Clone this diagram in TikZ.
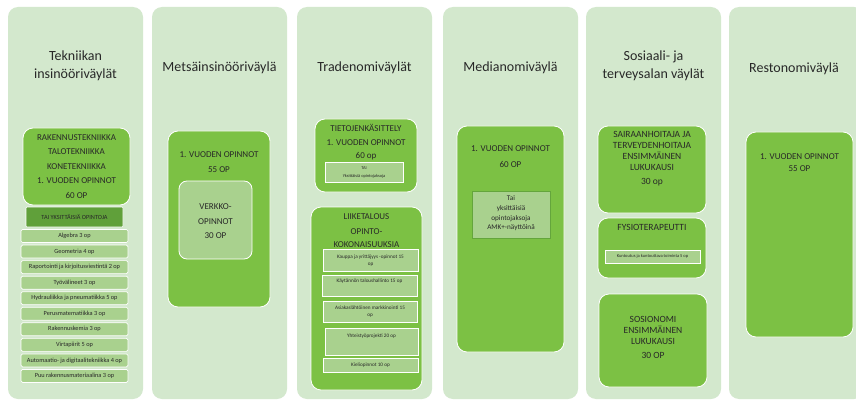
\documentclass[tikz,border=0pt]{standalone}
\usepackage{fontspec}
\setmainfont{Carlito}
\definecolor{colbg}{RGB}{211,232,205}
\definecolor{boxg}{RGB}{124,193,68}
\definecolor{lightg}{RGB}{169,209,142}
\definecolor{darkg}{RGB}{96,160,58}
\definecolor{edgeg}{RGB}{100,165,60}
\definecolor{txt}{RGB}{40,40,40}
\begin{document}
\begin{tikzpicture}[x=1pt,y=-1pt,
  every node/.style={inner sep=0pt, outer sep=0pt, text=txt},
  col/.style={fill=colbg, rounded corners=10pt},
  gbox/.style={draw=white, line width=0.8pt, fill=boxg, rounded corners=10pt},
  lbox/.style={draw=white, line width=0.7pt, fill=lightg, rounded corners=1.5pt},
  ttl/.style={font=\fontsize{14}{17.5}\selectfont, align=center},
  capt/.style={font=\fontsize{9}{14.5}\selectfont, align=center},
  small/.style={font=\fontsize{6.3}{7.5}\selectfont, align=center},
  tiny/.style={font=\fontsize{5.2}{7.2}\selectfont, align=center},
  micro/.style={font=\fontsize{4.2}{5.2}\selectfont, align=center}
]
\useasboundingbox (0,0) rectangle (856,401);
\fill[white] (0,0) rectangle (856,401);
% columns
\node[col, minimum width=135, minimum height=392] (c1) at (75.5,203) {};
\node[col, minimum width=135, minimum height=392] (c2) at (219.5,203) {};
\node[col, minimum width=135, minimum height=392] (c3) at (364.5,203) {};
\node[col, minimum width=135, minimum height=392] (c4) at (510.5,203) {};
\node[col, minimum width=135, minimum height=392] (c5) at (653.5,203) {};
\node[col, minimum width=135, minimum height=392] (c6) at (796.5,203) {};
% titles
\node[ttl] (t1) at (75.5,66) {Tekniikan\\insinööriväylät};
\node[ttl] (t2) at (219.5,68) {Metsäinsinööriväylä};
\node[ttl] (t3) at (364.5,68) {Tradenomiväylät};
\node[ttl] (t4) at (510.5,68) {Medianomiväylä};
\node[ttl] (t5) at (653.5,66) {Sosiaali- ja\\terveysalan väylät};
\node[ttl] (t6) at (794,69) {Restonomiväylä};
% column 1
\node[gbox, minimum width=107, minimum height=77] (b1) at (76.5,166.5) {};
\node[capt] (b1t) at (76.5,166.5) {RAKENNUSTEKNIIKKA\\TALOTEKNIIKKA\\KONETEKNIIKKA\\1. VUODEN OPINNOT\\60 OP};
\node[draw=white, line width=0.7pt, fill=darkg, rounded corners=1pt, minimum width=97, minimum height=20] (tai) at (74.5,217) {};
\node[small] (tait) at (74.5,217) {TAI YKSITTÄISIÄ OPINTOJA};
\foreach \i/\s in {0/Algebra 3 op, 1/Geometria 4 op, 2/Raportointi ja kirjoitusviestintä 2 op, 3/Työvälineet 3 op, 4/Hydrauliikka ja pneumatiikka 5 op, 5/Perusmatematiikka 3 op, 6/Rakennuskemia 3 op, 7/Virtapiirit 5 op, 8/Automaatio- ja digitaalitekniikka 4 op, 9/Puu rakennusmateriaalina 3 op}{
  \node[lbox, minimum width=107, minimum height=13] (l\i) at (74.5,236+15.55*\i) {};
  \node[small] (l\i t) at (l\i) {\s};
}
% column 2
\node[gbox, minimum width=102, minimum height=176] (b2) at (219,219) {};
\node[capt, font=\fontsize{9}{15}\selectfont] (b2t) at (219,162.5) {1. VUODEN OPINNOT\\55 OP};
\node[draw=white, line width=0.8pt, fill=lightg, rounded corners=8pt, minimum width=73, minimum height=78] (v2) at (215.5,220) {};
\node[capt] (v2t) at (215.5,221.5) {VERKKO-\\OPINNOT\\30 OP};
% column 3
\node[gbox, minimum width=102, minimum height=73] (b3) at (366,155.5) {};
\node[capt] (b3a) at (366,128) {TIETOJENKÄSITTELY};
\node[capt, font=\fontsize{9}{13}\selectfont] (b3b) at (366,149.5) {1. VUODEN OPINNOT\\60 op};
\node[draw=white, line width=0.7pt, fill=lightg, minimum width=78, minimum height=20] (i3) at (364,172) {};
\node[micro, font=\fontsize{4.4}{8}\selectfont] (i3t) at (364,172) {TAI\\Yksittäisiä opintojaksoja};
\node[gbox, minimum width=111, minimum height=183] (b4) at (366.5,298.5) {};
\node[capt] (b4a) at (366.5,217) {LIIKETALOUS};
\node[capt, font=\fontsize{9}{13}\selectfont] (b4b) at (366.5,238.5) {OPINTO-\\KOKONAISUUKSIA};
\node[lbox, rounded corners=0pt, minimum width=95, minimum height=22] (k1) at (370.5,260) {};
\node[tiny] (k1t) at (370.5,260.5) {Kauppa ja yrittäjyys -opinnot 15\\op};
\node[lbox, rounded corners=0pt, minimum width=95, minimum height=21] (k2) at (369.5,285.5) {};
\node[tiny] (k2t) at (369.5,281.5) {Käytännön taloushallinto 15 op};
\node[lbox, rounded corners=0pt, minimum width=94, minimum height=21] (k3) at (370,311.5) {};
\node[tiny] (k3t) at (370,312) {Asiakaslähtöinen markkinointi 15\\op};
\node[lbox, rounded corners=0pt, minimum width=93, minimum height=27] (k4) at (371.5,341.5) {};
\node[tiny] (k4t) at (371.5,336) {Yhteistyöprojekti 20 op};
\node[lbox, rounded corners=0pt, minimum width=95, minimum height=14] (k5) at (370.5,365) {};
\node[tiny] (k5t) at (370.5,365) {Kieliopinnot 10 op};
% column 4
\node[gbox, minimum width=107, minimum height=226] (b5) at (510.5,239) {};
\node[capt, font=\fontsize{9}{16}\selectfont] (b5t) at (510.5,157) {1. VUODEN OPINNOT\\60 OP};
\node[draw=edgeg, line width=0.8pt, fill=lightg, minimum width=78, minimum height=47] (i5) at (511,214.5) {};
\node[capt, font=\fontsize{7.2}{9.7}\selectfont] (i5t) at (511,213.5) {Tai\\yksittäisiä\\opintojaksoja\\AMK+-näyttöinä};
% column 5
\node[gbox, minimum width=108, minimum height=87] (b6) at (652,169.5) {};
\node[capt, font=\fontsize{9.5}{11}\selectfont] (b6a) at (652,150.5) {SAIRAANHOITAJA JA\\TERVEYDENHOITAJA\\ENSIMMÄINEN\\LUKUKAUSI};
\node[capt, font=\fontsize{9.5}{11}\selectfont] (b6b) at (652,182) {30 op};
\node[gbox, minimum width=108, minimum height=60] (b7) at (652,248) {};
\node[capt, font=\fontsize{9.5}{11}\selectfont] (b7t) at (652,227) {FYSIOTERAPEUTTI};
\node[lbox, rounded corners=0pt, minimum width=95, minimum height=13] (i7) at (652.5,256.5) {};
\node[micro, font=\fontsize{4.5}{5.5}\selectfont] (i7t) at (652.5,256.5) {Kuntoutus ja kuntouttava toiminta 5 op};
\node[gbox, minimum width=108, minimum height=93] (b8) at (653,340.5) {};
\node[capt, font=\fontsize{9.5}{11}\selectfont] (b8a) at (653,330) {SOSIONOMI\\ENSIMMÄINEN\\LUKUKAUSI};
\node[capt, font=\fontsize{9.5}{11}\selectfont] (b8b) at (653,355) {30 OP};
% column 6
\node[gbox, minimum width=107, minimum height=205] (b9) at (799.5,234.5) {};
\node[capt, font=\fontsize{9}{11.5}\selectfont] (b9t) at (799.5,162.5) {1. VUODEN OPINNOT\\55 OP};
\end{tikzpicture}
\end{document}
